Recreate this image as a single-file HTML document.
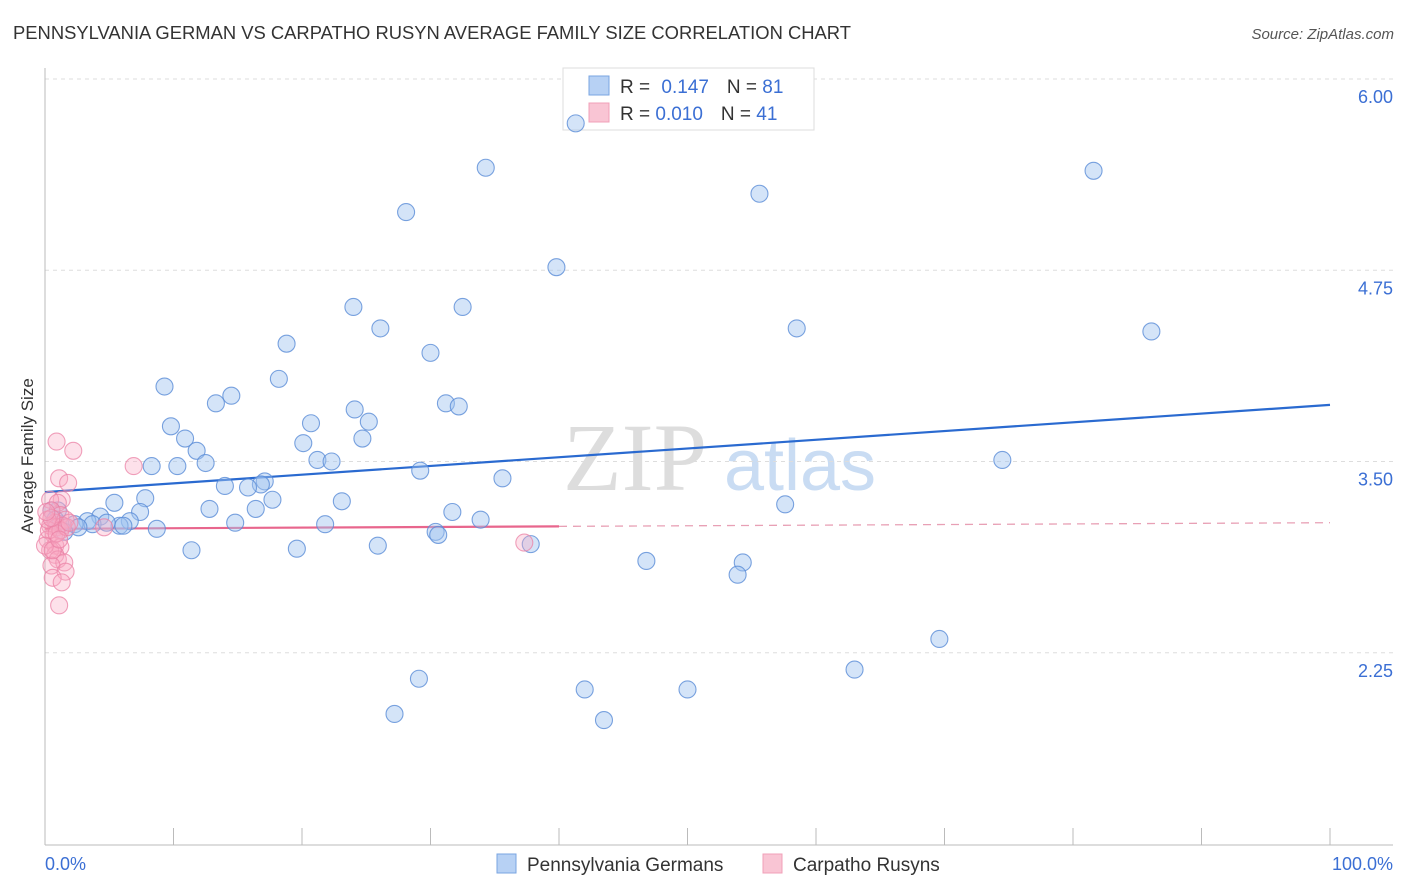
<!DOCTYPE html>
<html><head><meta charset="utf-8"><style>
body{margin:0;background:#fff;font-family:"Liberation Sans",sans-serif}
svg{display:block}
</style></head><body>
<svg id="chart" width="1406" height="892" xmlns="http://www.w3.org/2000/svg">
<text x="13" y="39" font-size="18.4" fill="#333">PENNSYLVANIA GERMAN VS CARPATHO RUSYN AVERAGE FAMILY SIZE CORRELATION CHART</text>
<text x="1394" y="39" font-size="15" fill="#555" font-style="italic" text-anchor="end">Source: ZipAtlas.com</text>
<text x="33" y="456" font-size="17" fill="#333" text-anchor="middle" transform="rotate(-90 33 456)">Average Family Size</text>
<g>
<text x="635" y="490" font-size="96" font-family="Liberation Serif,serif" fill="#ddd" text-anchor="middle">ZIP</text>
<text x="800" y="490" font-size="72" fill="#c9dcf3" text-anchor="middle">atlas</text>
</g>
<g id="grid"></g><g id="axes"></g>
<g>
<rect x="563" y="68" width="251" height="62" fill="#fff" stroke="#ddd"/>
<rect x="589" y="76" width="20" height="19" fill="#b7d1f4" stroke="#7aa5e2"/>
<rect x="589" y="103" width="20" height="19" fill="#f9c5d4" stroke="#f1a0b8"/>
<text x="620" y="93" font-size="19" fill="#333">R = <tspan fill="#3b6fd4" dx="6">0.147</tspan><tspan dx="18">N = </tspan><tspan fill="#3b6fd4">81</tspan></text>
<text x="620" y="120" font-size="19" fill="#333">R = <tspan fill="#3b6fd4">0.010</tspan><tspan dx="18">N = </tspan><tspan fill="#3b6fd4">41</tspan></text>
</g>
<g id="lines"></g><g id="pts"></g>
<g>
<rect x="497" y="854" width="19" height="19" fill="#b7d1f4" stroke="#7aa5e2"/>
<text x="527" y="871" font-size="19" fill="#333">Pennsylvania Germans</text>
<rect x="763" y="854" width="19" height="19" fill="#f9c5d4" stroke="#f1a0b8"/>
<text x="793" y="871" font-size="19" fill="#333">Carpatho Rusyns</text>
</g>
<text x="45" y="870" font-size="18" fill="#3b6fd4">0.0%</text>
<text x="1393" y="870" font-size="18" fill="#3b6fd4" text-anchor="end">100.0%</text>
</svg>
<script>
const yTicks=[6.00,4.75,3.50,2.25];
const yTickLabels=["6.00","4.75","3.50","2.25"];
const blueX=[41.3,34.3,81.6,55.6,28.1,39.8,24.0,32.5,26.1,58.5,86.1,18.8,30.0,9.3,18.2,14.5,13.3,31.2,32.2,24.1,9.8,20.7,25.2,10.9,20.1,24.7,11.8,8.3,10.3,12.5,21.2,22.3,74.5,29.2,35.6,14.0,17.1,16.8,15.8,17.7,7.8,5.4,23.1,57.6,12.8,16.4,7.4,4.3,3.3,31.7,33.9,1.0,14.8,21.8,6.6,2.3,3.7,5.8,4.8,6.1,2.6,8.7,1.2,1.5,30.4,30.6,37.8,25.9,19.6,11.4,46.8,54.3,53.9,69.6,63.0,29.1,42.0,50.0,27.2,43.5,0.5,0.8];
const blueY=[5.71,5.42,5.40,5.25,5.13,4.77,4.51,4.51,4.37,4.37,4.35,4.27,4.21,3.99,4.04,3.93,3.88,3.88,3.86,3.84,3.73,3.75,3.76,3.65,3.62,3.65,3.57,3.47,3.47,3.49,3.51,3.50,3.51,3.44,3.39,3.34,3.37,3.35,3.33,3.25,3.26,3.23,3.24,3.22,3.19,3.19,3.17,3.14,3.11,3.17,3.12,3.18,3.10,3.09,3.11,3.09,3.09,3.08,3.10,3.08,3.07,3.06,3.09,3.04,3.04,3.02,2.96,2.95,2.93,2.92,2.85,2.84,2.76,2.34,2.14,2.08,2.01,2.01,1.85,1.81,3.18,3.12];
const pinkX=[0.9,2.2,6.9,1.1,1.8,1.3,0.4,1.0,0.5,1.2,0.8,1.6,0.4,0.9,1.4,0.7,0.2,0.8,1.2,0.4,0.8,1.0,1.5,0.5,1.6,0.6,1.3,1.1,4.6,37.3,0.3,1.2,0.2,0.9,0.5,1.7,0.0,0.6,1.1,0.1,1.9];
const pinkY=[3.63,3.57,3.47,3.39,3.36,3.25,3.25,3.23,3.18,3.15,3.10,3.12,3.08,3.07,3.08,3.02,2.99,2.95,2.94,2.92,2.89,2.86,2.84,2.82,2.78,2.74,2.71,2.56,3.07,2.97,3.05,3.05,3.12,3.03,3.13,3.07,2.95,2.92,2.99,3.17,3.10];
const blueTrend=[3.30,3.87];
const pinkTrend=[3.06,3.10];
const pinkSolidEnd=40;
const X=v=>45+v*12.85, Y=v=>79+(6-v)*153;
const NS="http://www.w3.org/2000/svg";
function mk(p,t,a){const e=document.createElementNS(NS,t);for(const k in a)e.setAttribute(k,a[k]);p.appendChild(e);return e;}
const grid=document.getElementById('grid'),axes=document.getElementById('axes'),lines=document.getElementById('lines'),pts=document.getElementById('pts');
yTicks.forEach((t,i)=>{
 const l=mk(grid,'line',{x1:45,x2:1393,y1:Y(t),y2:Y(t),stroke:'#ddd','stroke-dasharray':'4,4'});
 
 
 const tx=mk(grid,'text',{x:1393,y:Y(t)+24,'font-size':18,fill:'#3b6fd4','text-anchor':'end'});
 tx.textContent=yTickLabels[i];
 
 
});
const ya=mk(axes,'line',{x1:45,x2:45,y1:68,y2:845,stroke:'#bbb'});


const xa=mk(axes,'line',{x1:45,x2:1393,y1:845,y2:845,stroke:'#bbb'});


for(let k=0;k<=10;k++){const t=mk(axes,'line',{x1:X(k*10),x2:X(k*10),y1:828,y2:845,stroke:'#bbb'});
 
 }
function dot(x,y,fill,stroke,name){const c=mk(pts,'circle',{cx:X(x),cy:Y(y),r:8.5,fill:fill,stroke:stroke,'stroke-width':1.1});
 
 }
blueX.forEach((x,i)=>dot(x,blueY[i],'rgba(160,195,240,0.45)','rgba(90,140,215,0.8)','point-pennsylvania-german'));
pinkX.forEach((x,i)=>dot(x,pinkY[i],'rgba(248,170,195,0.35)','rgba(235,130,165,0.75)','point-carpatho-rusyn'));
const bl=mk(lines,'line',{x1:X(0),y1:Y(blueTrend[0]),x2:X(100),y2:Y(blueTrend[1]),stroke:'#2a6ad0','stroke-width':2.2});


const pAt=x=>pinkTrend[0]+(pinkTrend[1]-pinkTrend[0])*x/100;
const ps=mk(lines,'line',{x1:X(0),y1:Y(pAt(0)),x2:X(pinkSolidEnd),y2:Y(pAt(pinkSolidEnd)),stroke:'#e8668d','stroke-width':2.2});


const pd=mk(lines,'line',{x1:X(pinkSolidEnd),y1:Y(pAt(pinkSolidEnd)),x2:X(100),y2:Y(pAt(100)),stroke:'#e8a0b5','stroke-width':1.3,'stroke-dasharray':'8,6'});


</script>
</body></html>
